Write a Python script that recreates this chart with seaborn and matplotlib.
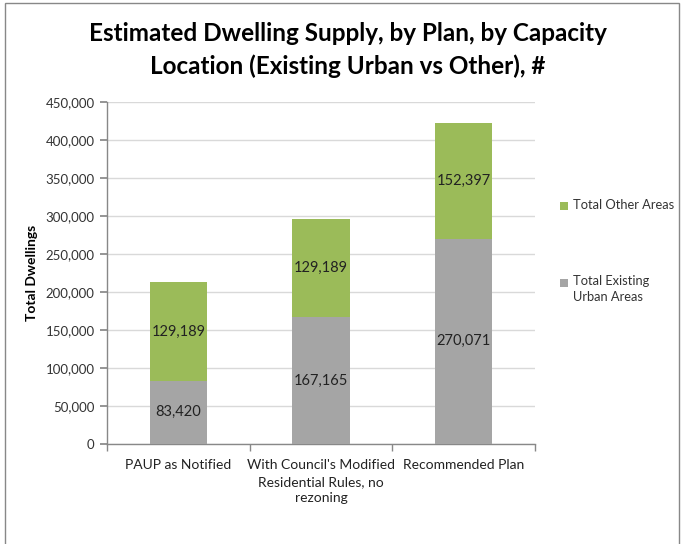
import matplotlib
matplotlib.use("Agg")
import matplotlib.pyplot as plt
from matplotlib.patches import Rectangle
import seaborn as sns
import pandas as pd

categories = ["PAUP as Notified",
              "With Council's Modified\nResidential Rules, no\nrezoning",
              "Recommended Plan"]
existing_urban = [83420, 167165, 270071]
other_areas = [129189, 129189, 152397]
series_names = ["Total Other Areas", "Total Existing\nUrban Areas"]
title = "Estimated Dwelling Supply, by Plan, by Capacity\nLocation (Existing Urban vs Other), #"

GREEN = "#9BBB59"
GRAY = "#A5A5A5"

sns.set_theme(style="white")
plt.rcParams['font.family'] = ['Lato', 'DejaVu Sans']

df = pd.DataFrame({
    "cat": categories,
    "urban": existing_urban,
    "other": other_areas,
})
df["total"] = df["urban"] + df["other"]

fig = plt.figure(figsize=(6.82, 5.44), dpi=100)
ax = fig.add_axes([107/682, 1-444/544, (535-107)/682, (444-102)/544])

ax.set_axisbelow(True)
ax.yaxis.grid(True, color="#D9D9D9", linewidth=1)
sns.barplot(data=df, x="cat", y="total", color=GREEN, saturation=1, width=0.4, ax=ax,
            zorder=2, linewidth=0, edgecolor="none")
sns.barplot(data=df, x="cat", y="urban", color=GRAY, saturation=1, width=0.4, ax=ax,
            zorder=3, linewidth=0, edgecolor="none")

for i, (u, o) in enumerate(zip(existing_urban, other_areas)):
    ax.text(i, u/2, f"{u:,}", ha="center", va="center", fontsize=10.5, color="#222222", zorder=4)
    ax.text(i, u + o/2, f"{o:,}", ha="center", va="center", fontsize=10.5, color="#222222", zorder=4)

ax.set_xlim(-0.5, 2.5)
ax.set_ylim(0, 450000)
ax.set_yticks(range(0, 450001, 50000))
ax.set_yticklabels([f"{v:,}" for v in range(0, 450001, 50000)], fontsize=9.5, color="#333333")
ax.set_xticks([0, 1, 2])
ax.set_xticklabels(categories, fontsize=10, color="#222222", linespacing=1.45)
ax.set_xticks([-0.5, 0.5, 1.5, 2.5], minor=True)
ax.tick_params(axis="x", which="major", length=0, pad=11)
ax.tick_params(axis="x", which="minor", length=5, color="#888888", direction="out", bottom=True)
ax.tick_params(axis="y", length=5, color="#888888", direction="out", left=True, pad=4)
ax.set_xlabel("")
ax.set_ylabel("Total Dwellings", fontsize=10, fontweight="bold", color="black", labelpad=5)

for s in ["top", "right"]:
    ax.spines[s].set_visible(False)
for s in ["left", "bottom"]:
    ax.spines[s].set_color("#888888")
    ax.spines[s].set_linewidth(1)

fig.text(348/682, 1-50/544, title, ha="center", va="center", fontsize=17.5,
         fontweight="bold", color="black", linespacing=1.45)

# legend (manual)
fig.patches.append(Rectangle((560/682, 1-210/544), 8/682, 8/544, transform=fig.transFigure,
                             facecolor=GREEN, edgecolor="none"))
fig.text(573/682, 1-205/544, series_names[0], ha="left", va="center", fontsize=9.3, color="#333333")
fig.patches.append(Rectangle((560/682, 1-287/544), 8/682, 8/544, transform=fig.transFigure,
                             facecolor=GRAY, edgecolor="none"))
fig.text(573/682, 1-275/544, series_names[1], ha="left", va="top", fontsize=9.3, color="#333333",
         linespacing=1.4)

# outer border
fig.patches.append(Rectangle((5/682, -0.02), (679-5)/682, 1.02 - 3/544, transform=fig.transFigure,
                             facecolor="none", edgecolor="#888888", linewidth=1))

fig.savefig("out.png", dpi=100)
